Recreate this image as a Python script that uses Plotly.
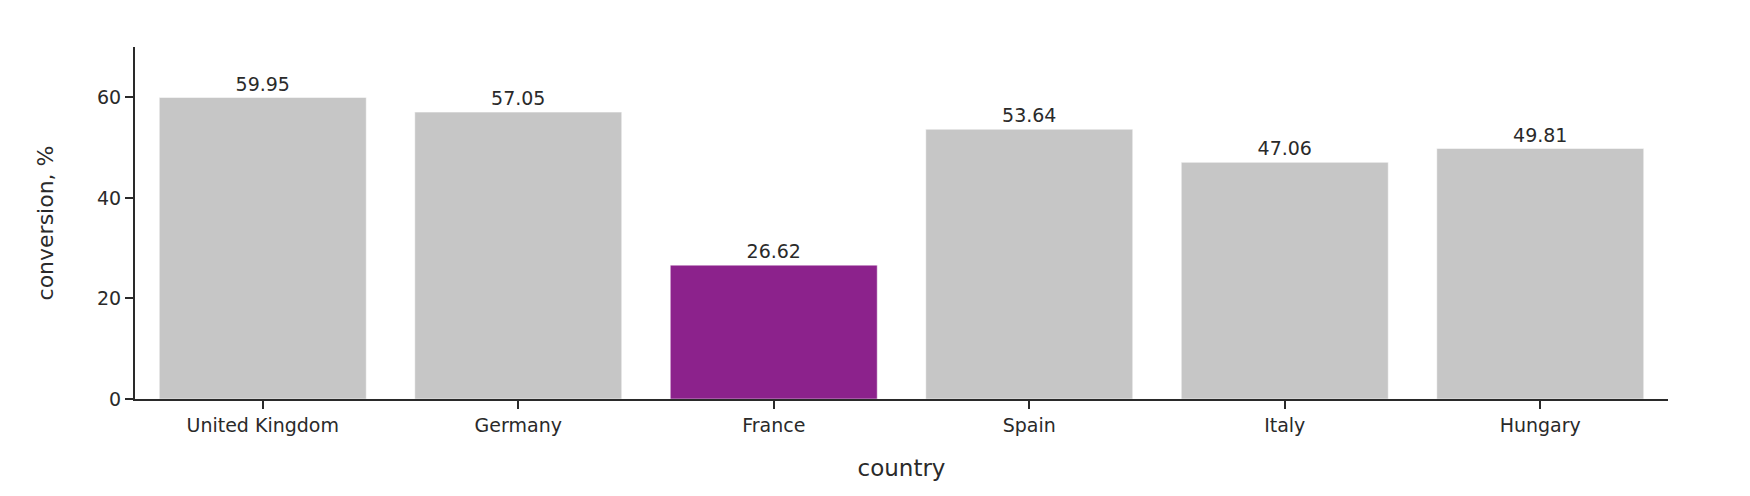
import plotly.graph_objects as go

countries = ["United Kingdom", "Germany", "France", "Spain", "Italy", "Hungary"]
conversion = [59.95, 57.05, 26.62, 53.64, 47.06, 49.81]
highlight = "France"
gray = "#c6c6c6"
purple = "#8c228c"
colors = [purple if c == highlight else gray for c in countries]

fig = go.Figure(go.Bar(
    x=countries, y=conversion,
    marker=dict(color=colors, line=dict(color="white", width=0.5)),
    text=[f"{v:.2f}" for v in conversion], textposition="outside",
    textfont=dict(size=19, color="#2a2a2a"), cliponaxis=False,
))
fig.update_layout(
    template="simple_white",
    width=1750, height=496,
    margin=dict(l=127, r=90, t=39, b=105, autoexpand=False),
    font=dict(family="DejaVu Sans, Verdana, sans-serif", size=19, color="#2a2a2a"),
    bargap=0.19,
    showlegend=False,
)
fig.update_xaxes(title=dict(text="country", font=dict(size=23), standoff=25), ticklen=8,
                 tickfont=dict(size=19), automargin=False,
                 linecolor="#2a2a2a", linewidth=2, tickcolor="#2a2a2a", tickwidth=1.5)
fig.update_yaxes(title=dict(text="conversion, %", font=dict(size=22), standoff=37), range=[0, 70], ticklen=8,
                 tickvals=[0, 20, 40, 60], tickfont=dict(size=19), automargin=False,
                 linecolor="#2a2a2a", linewidth=2, tickcolor="#2a2a2a", tickwidth=1.5)
fig.write_html("out.html")
